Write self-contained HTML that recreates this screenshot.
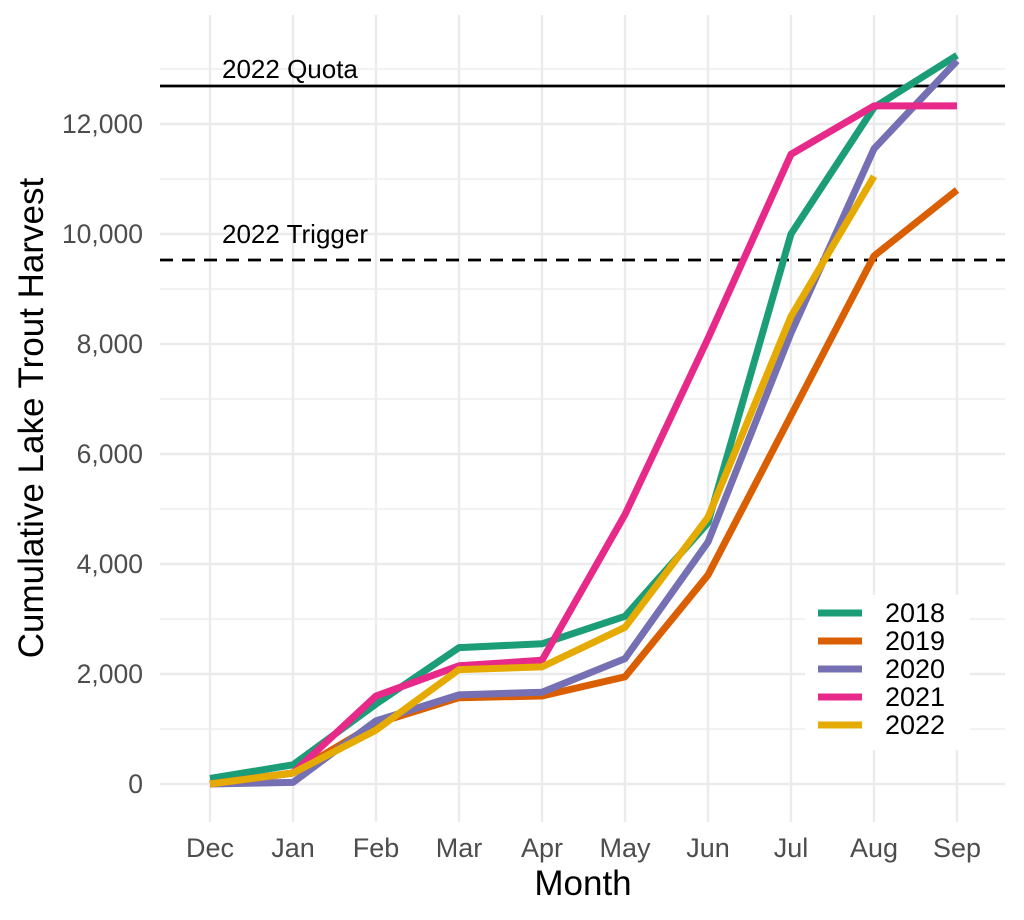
<!DOCTYPE html>
<html><head><style>body{margin:0;background:#fff}svg{display:block}</style></head><body>
<svg width="1024" height="920" xmlns="http://www.w3.org/2000/svg" font-family="Liberation Sans, sans-serif">
<rect width="1024" height="920" fill="#fff"/>
<g stroke="#ebebeb" stroke-width="1.2">
<line x1="160" x2="1005" y1="729" y2="729"/><line x1="160" x2="1005" y1="619" y2="619"/><line x1="160" x2="1005" y1="509" y2="509"/><line x1="160" x2="1005" y1="399" y2="399"/><line x1="160" x2="1005" y1="289" y2="289"/><line x1="160" x2="1005" y1="179" y2="179"/><line x1="160" x2="1005" y1="69" y2="69"/>
</g>
<g stroke="#ebebeb" stroke-width="2.4">
<line x1="160" x2="1005" y1="784" y2="784"/><line x1="160" x2="1005" y1="674" y2="674"/><line x1="160" x2="1005" y1="564" y2="564"/><line x1="160" x2="1005" y1="454" y2="454"/><line x1="160" x2="1005" y1="344" y2="344"/><line x1="160" x2="1005" y1="234" y2="234"/><line x1="160" x2="1005" y1="124" y2="124"/>
<line x1="210" x2="210" y1="15" y2="822"/><line x1="293" x2="293" y1="15" y2="822"/><line x1="376" x2="376" y1="15" y2="822"/><line x1="459" x2="459" y1="15" y2="822"/><line x1="542" x2="542" y1="15" y2="822"/><line x1="625" x2="625" y1="15" y2="822"/><line x1="708" x2="708" y1="15" y2="822"/><line x1="791" x2="791" y1="15" y2="822"/><line x1="874" x2="874" y1="15" y2="822"/><line x1="957" x2="957" y1="15" y2="822"/>
</g>
<line x1="160" x2="1005" y1="86" y2="86" stroke="#000" stroke-width="2.8"/>
<line x1="160" x2="1005" y1="260" y2="260" stroke="#000" stroke-width="2.8" stroke-dasharray="13,9"/>
<text x="222" y="78" font-size="26">2022 Quota</text>
<text x="222" y="243" font-size="26">2022 Trigger</text>
<g fill="none" stroke-width="7" stroke-linejoin="round">
<polyline stroke="#1B9E77" points="210,778.5 293,764.8 376,704 459,647.6 542,643.8 625,616.3 708,522.8 791,234 874,107.5 957,55.3"/>
<polyline stroke="#D95F02" points="210,784 293,773 376,723.5 459,697.7 542,696 625,676.8 708,575 791,415.5 874,256 957,190"/>
<polyline stroke="#7570B3" points="210,784 293,782.4 376,720.8 459,694.9 542,692.2 625,658.6 708,542 791,333 874,148.8 957,60.8"/>
<polyline stroke="#E7298A" points="210,784 293,773 376,696 459,665.8 542,660.3 625,514.5 708,338.5 791,154.3 874,105.9 957,105.9"/>
<polyline stroke="#E6AB02" points="210,784 293,773 376,730.1 459,669.6 542,666.9 625,627.3 708,517.3 791,316.5 874,176.3"/>
</g>
<rect x="805" y="595" width="165" height="155" fill="#fff"/>
<g stroke-width="7"><line x1="818" x2="862" y1="613" y2="613" stroke="#1B9E77"/><line x1="818" x2="862" y1="641" y2="641" stroke="#D95F02"/><line x1="818" x2="862" y1="669" y2="669" stroke="#7570B3"/><line x1="818" x2="862" y1="697" y2="697" stroke="#E7298A"/><line x1="818" x2="862" y1="725" y2="725" stroke="#E6AB02"/></g>
<g font-size="27" fill="#000"><text x="885" y="622">2018</text><text x="885" y="650">2019</text><text x="885" y="678">2020</text><text x="885" y="706">2021</text><text x="885" y="734">2022</text></g>
<g font-size="26.5" fill="#4d4d4d" text-anchor="end"><text x="143" y="793">0</text><text x="143" y="683">2,000</text><text x="143" y="573">4,000</text><text x="143" y="463">6,000</text><text x="143" y="353">8,000</text><text x="143" y="243">10,000</text><text x="143" y="133">12,000</text></g>
<g font-size="27" fill="#4d4d4d" text-anchor="middle"><text x="210" y="857">Dec</text><text x="293" y="857">Jan</text><text x="376" y="857">Feb</text><text x="459" y="857">Mar</text><text x="542" y="857">Apr</text><text x="625" y="857">May</text><text x="708" y="857">Jun</text><text x="791" y="857">Jul</text><text x="874" y="857">Aug</text><text x="957" y="857">Sep</text></g>
<text x="583" y="895" font-size="35" text-anchor="middle">Month</text>
<text transform="translate(43,418) rotate(-90)" font-size="35" text-anchor="middle">Cumulative Lake Trout Harvest</text>
</svg>
</body></html>
